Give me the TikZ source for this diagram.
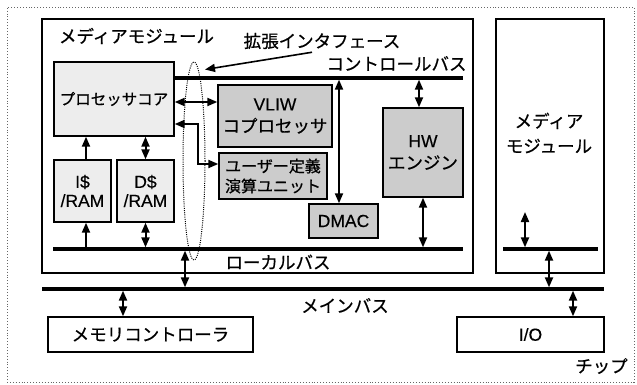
\documentclass[tikz,border=0pt]{standalone}
\usepackage{fontspec}
\setmainfont{Liberation Sans}[FakeBold=0.3]
\newfontfamily\jp{Noto Sans CJK JP}[FakeBold=0.6]
\usetikzlibrary{arrows.meta,calc,shapes.geometric}
\begin{document}
\begin{tikzpicture}[x=1pt,y=-1pt,
 box/.style={draw=black, line width=1.4pt, inner sep=0pt, align=center, font=\fontsize{17.5}{20}\selectfont},
 light/.style={box, fill=black!7},
 dark/.style={box, fill=black!20},
 bus/.style={line width=3.3pt},
 dbl/.style={line width=2pt, {Triangle[length=10pt,width=8pt]}-{Triangle[length=10pt,width=8pt]}},
 sgl/.style={line width=2pt, -{Triangle[length=10pt,width=8pt]}},
 lbl/.style={inner sep=0pt, font=\jp\fontsize{17.5}{20}\selectfont},
]
\useasboundingbox (0,0) rectangle (637,385);
% chip
\node[draw=black!60, dotted, line width=0.9pt, minimum width=627, minimum height=375, inner sep=0pt] (chip) at (320.5,194.5) {};
% modules
\node[box, minimum width=431, minimum height=254] (mod) at (257.5,146) {};
\node[box, minimum width=108, minimum height=254] (mod2) at (550,146) {};
% blocks
\node[light, minimum width=120, minimum height=74, font=\jp\fontsize{15.5}{18}\selectfont] (proc) at (114,99) {プロセッサコア};
\node[light, minimum width=57, minimum height=62, font=\fontsize{17.5}{19}\selectfont] (icache) at (82.5,191) {I\$\\/RAM};
\node[light, minimum width=57, minimum height=62, font=\fontsize{17.5}{19}\selectfont] (dcache) at (145.5,191) {D\$\\/RAM};
\node[dark, minimum width=114, minimum height=62, font=\fontsize{17.5}{22}\selectfont] (vliw) at (275,116) {VLIW\\{\jp コプロセッサ}};
\node[dark, minimum width=108, minimum height=46, font=\jp\fontsize{16}{20}\selectfont] (user) at (273,176) {ユーザー定義\\演算ユニット};
\node[dark, minimum width=69, minimum height=34] (dmac) at (343.5,221) {DMAC};
\node[dark, minimum width=80, minimum height=89, font=\fontsize{17.5}{22}\selectfont] (hw) at (423,152.5) {HW\\{\jp エンジン}};
\node[box, minimum width=205, minimum height=35, font=\jp\fontsize{17.5}{20}\selectfont] (mem) at (150.5,334.5) {メモリコントローラ};
\node[box, minimum width=147, minimum height=35] (io) at (530.5,334.5) {I/O};
% labels
\node[lbl] (modlbl) at (136.5,36) {メディアモジュール};
\node[lbl] (extlbl) at (322,41) {拡張インタフェース};
\node[lbl] (cbuslbl) at (396.5,63.5) {コントロールバス};
\node[lbl] (lbuslbl) at (278,262) {ローカルバス};
\node[lbl] (mbuslbl) at (345,305.5) {メインバス};
\node[lbl] (chiplbl) at (601.5,366) {チップ};
\node[lbl, align=center, font=\jp\fontsize{17.5}{25}\selectfont] (mod2lbl) at (549,133) {メディア\\モジュール};
% extension interface ellipse
\node[ellipse, draw=black, dash pattern=on 1pt off 1.2pt, line width=1pt, minimum width=22, minimum height=198, inner sep=0pt] (ell) at (194,161) {};
% buses
\coordinate (cbusW) at (174,78);
\coordinate (cbusE) at (463,78);
\coordinate (lbusW) at (53,249);
\coordinate (lbusE) at (463,249);
\coordinate (mbusW) at (42,289);
\coordinate (mbusE) at (604,289);
\coordinate (rbusW) at (503,249);
\coordinate (rbusE) at (598,249);
\draw[bus] (cbusW) -- (cbusE);
\draw[bus] (lbusW) -- (lbusE);
\draw[bus] (mbusW) -- (mbusE);
\draw[bus] (rbusW) -- (rbusE);
% helper coordinates
\coordinate (extA) at ($(extlbl.south)+(-10,3)$);
\coordinate (extB) at ($(ell.north)+(11,8)$);
\coordinate (ia) at ($(icache.north)+(3.5,0)$);
\coordinate (ib) at ($(icache.south)+(3.5,0)$);
\coordinate (pv) at ($(proc.east)+(0,3)$);
\coordinate (pu) at ($(proc.east)+(0,25)$);
\coordinate (uw) at ($(user.west)+(0,-12)$);
\coordinate (ucorner) at ($(uw)+(-20,0)$);
\coordinate (dm) at ($(dmac.north)+(-4.5,0)$);
\coordinate (hwn) at ($(hw.north)+(-4,0)$);
\coordinate (lm) at (185,249);
\coordinate (mm) at ($(mem.north)+(-27.5,0)$);
\coordinate (im) at ($(io.north)+(42.5,0)$);
\coordinate (r1) at (525,212);
\coordinate (r2) at (549,249);
% connectors
\draw[sgl, line width=1.6pt] (extA) -- (extB);
\draw[sgl] (ia) -- (ia |- proc.south);
\draw[sgl, shorten <=1.65pt] (ib |- lbusW) -- (ib);
\draw[dbl] (dcache.north) -- (dcache.north |- proc.south);
\draw[dbl, shorten <=1.65pt] (dcache.south |- lbusW) -- (dcache.south);
\draw[dbl] (pv) -- (pv -| vliw.west);
\draw[dbl] (pu) -| (ucorner) -- (uw);
\draw[dbl, shorten <=1.65pt] (dm |- cbusW) -- (dm);
\draw[dbl, shorten <=1.65pt] (hwn |- cbusW) -- (hwn);
\draw[dbl, shorten >=1.65pt] (hw.south) -- (hw.south |- lbusW);
\draw[dbl, shorten <=1.65pt, shorten >=1.65pt] (lm) -- (lm |- mbusW);
\draw[dbl, shorten <=1.65pt] (mm |- mbusW) -- (mm);
\draw[dbl, shorten <=1.65pt] (im |- mbusW) -- (im);
\draw[dbl, shorten >=1.65pt] (r1) -- (r1 |- rbusW);
\draw[dbl, shorten <=1.65pt, shorten >=1.65pt] (r2) -- (r2 |- mbusW);
\end{tikzpicture}
\end{document}
